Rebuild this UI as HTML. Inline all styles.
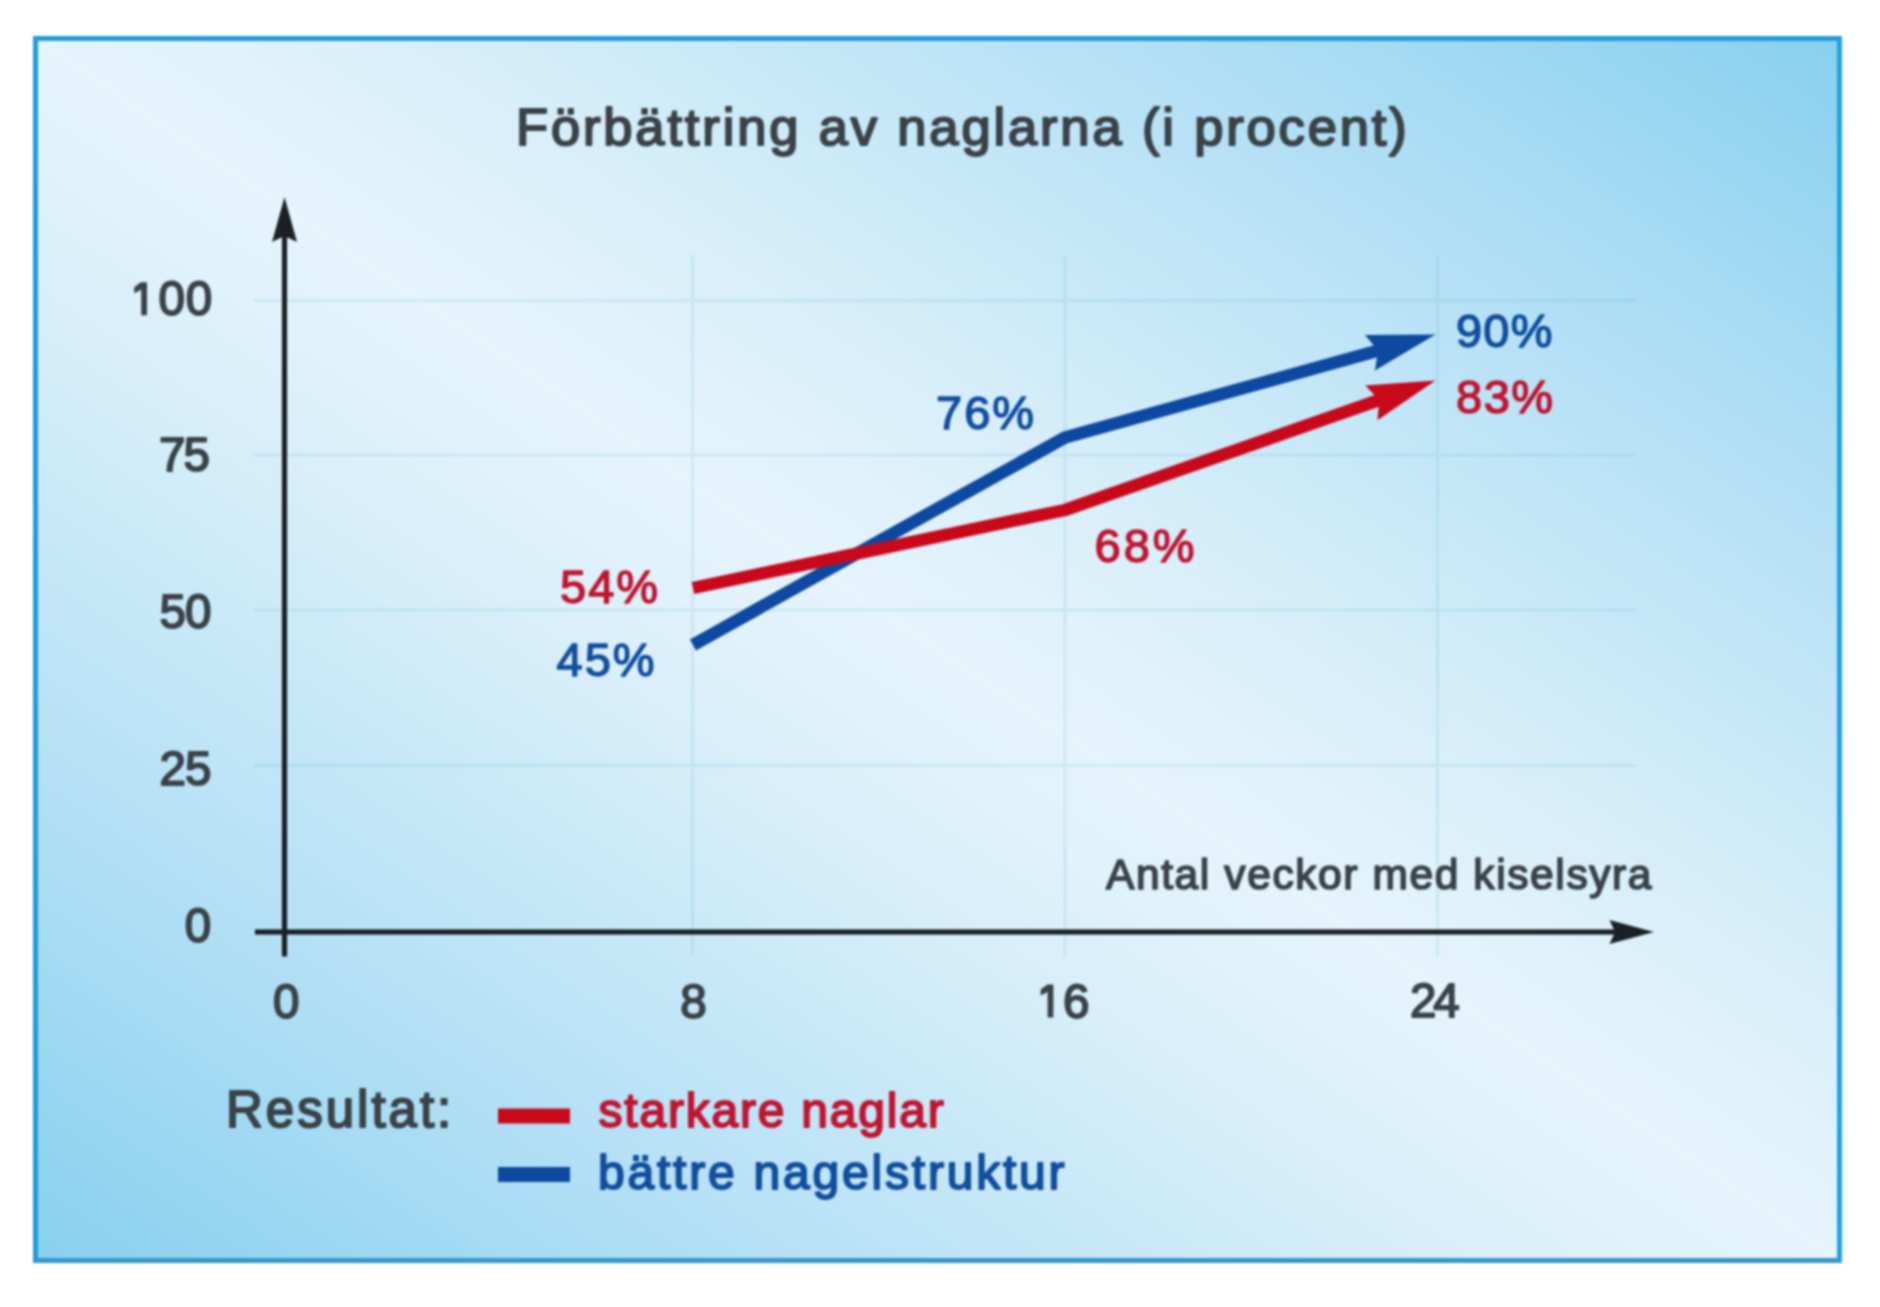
<!DOCTYPE html>
<html><head><meta charset="utf-8">
<style>
html,body{margin:0;padding:0;background:#fff;width:1880px;height:1307px;overflow:hidden}
#box{position:absolute;left:33px;top:36px;width:1809px;height:1227px;box-sizing:border-box;border:5px solid;border-color:#229bdc #1ea4e2 #3597c8 #1f9bdc;background:linear-gradient(to top right,#89d0f0 0%,#94d4f1 5%,#9fd8f3 10%,#a9ddf4 15%,#b4e0f5 20%,#bee4f7 25%,#c7e8f8 30%,#d0ecf9 35%,#d9effa 40%,#e0f2fb 45%,#e6f4fc 50%,#e0f2fb 55%,#d9effa 60%,#d0ecf9 65%,#c7e8f8 70%,#bee4f7 75%,#b4e0f5 80%,#a9ddf4 85%,#9fd8f3 90%,#94d4f1 95%,#89d0f0 100%);filter:blur(0.8px);}
svg{position:absolute;left:0;top:0;filter:blur(0.8px)}
text{font-family:"Liberation Sans",sans-serif;font-weight:normal;paint-order:stroke;stroke-linejoin:round}
.g{fill:#3a4248;stroke:#3a4248}
.r{fill:#c01530;stroke:#c01530}
.b{fill:#114e9e;stroke:#114e9e}
</style></head><body>
<div id="box"></div>
<svg width="1880" height="1307" viewBox="0 0 1880 1307">
 <g stroke="rgb(80,170,200)" stroke-width="3" fill="none" opacity="0.14">
  <line x1="254" y1="300.5" x2="1636" y2="300.5"/>
  <line x1="254" y1="455" x2="1636" y2="455"/>
  <line x1="254" y1="610" x2="1636" y2="610"/>
  <line x1="254" y1="765.5" x2="1636" y2="765.5"/>
  <line x1="692.5" y1="255" x2="692.5" y2="956"/>
  <line x1="1065" y1="255" x2="1065" y2="956"/>
  <line x1="1437.5" y1="255" x2="1437.5" y2="956"/>
 </g>
 <g fill="#1b2026">
  <rect x="281.90" y="230" width="5.2" height="726.5"/>
  <rect x="255" y="929.40" width="1360" height="5.2"/>
  <path d="M284.5 197 L297.0 242 L284.5 236 L272.0 242 Z"/>
  <path d="M1654 932 L1609.5 944 L1615 932 L1609.5 920 Z"/>
 </g>
 <polyline points="693,645 1065,437.5 1377.69,350.66" fill="none" stroke="#0d49a0" stroke-width="12.5" stroke-linejoin="round"/>
 <path fill="#0d49a0" d="M1435.50 334.60 L1374.93 370.62 L1376.97 357.40 L1373.59 345.25 L1365.03 334.97 Z"/>
 <polyline points="693,588 1065,510 1378.86,400.21" fill="none" stroke="#c8091c" stroke-width="12.5" stroke-linejoin="round"/>
 <path fill="#c8091c" d="M1435.50 380.40 L1377.42 420.31 L1378.59 406.98 L1374.42 395.09 L1365.21 385.39 Z"/>
 <path fill="#3a4248" d="M140.90 282.20 L147.00 282.20 L147.00 315.20 L141.20 315.20 L141.20 289.70 L134.20 293.20 L134.20 287.20 Z"/>
 <path fill="#3a4248" d="M1047.30 984.60 L1053.40 984.60 L1053.40 1017.60 L1047.60 1017.60 L1047.60 992.10 L1040.60 995.60 L1040.60 989.60 Z"/>
 <rect x="498" y="1108.5" width="72" height="15" fill="#c8091c"/>
 <rect x="498" y="1167" width="72" height="15" fill="#0d49a0"/>
 <text id="title" class="g" x="516.00" y="145.00" font-size="52.5" stroke-width="2.10" textLength="890.73" lengthAdjust="spacing">Förbättring av naglarna (i procent)</text>
 <text id="y100" class="g" x="158.50" y="314.50" font-size="47.5" stroke-width="1.90" textLength="53.64" lengthAdjust="spacing">00</text>
 <text id="y75" class="g" x="159.00" y="471.00" font-size="47.5" stroke-width="1.90" textLength="50.84" lengthAdjust="spacing">75</text>
 <text id="y50" class="g" x="159.50" y="627.50" font-size="47.5" stroke-width="1.90" textLength="51.84" lengthAdjust="spacing">50</text>
 <text id="y25" class="g" x="159.50" y="785.00" font-size="47.5" stroke-width="1.90" textLength="51.84" lengthAdjust="spacing">25</text>
 <text id="y0" class="g" x="184.70" y="941.50" font-size="47.5" stroke-width="1.90" textLength="26.42" lengthAdjust="spacing">0</text>
 <text id="x0" class="g" x="273.00" y="1017.50" font-size="47.5" stroke-width="1.90" textLength="26.42" lengthAdjust="spacing">0</text>
 <text id="x8" class="g" x="680.30" y="1018.00" font-size="47.5" stroke-width="1.90" textLength="26.42" lengthAdjust="spacing">8</text>
 <text id="x16" class="g" x="1063.00" y="1017.50" font-size="47.5" stroke-width="1.90" textLength="26.42" lengthAdjust="spacing">6</text>
 <text id="x24" class="g" x="1410.00" y="1017.00" font-size="47.5" stroke-width="1.90" textLength="49.64" lengthAdjust="spacing">24</text>
 <text id="antal" class="g" x="1106.00" y="889.00" font-size="42.5" stroke-width="1.70" textLength="545.47" lengthAdjust="spacing">Antal veckor med kiselsyra</text>
 <text id="res" class="g" x="226.00" y="1126.50" font-size="51" stroke-width="2.04" textLength="225.27" lengthAdjust="spacing">Resultat:</text>
 <text id="v54" class="r" x="560.00" y="603.00" font-size="47" style="font-weight:normal" stroke-width="1.41" textLength="98.08" lengthAdjust="spacing">54%</text>
 <text id="v45" class="b" x="556.50" y="675.50" font-size="47" style="font-weight:normal" stroke-width="1.41" textLength="98.08" lengthAdjust="spacing">45%</text>
 <text id="v76" class="b" x="936.00" y="429.00" font-size="47" style="font-weight:normal" stroke-width="1.41" textLength="98.08" lengthAdjust="spacing">76%</text>
 <text id="v68" class="r" x="1094.50" y="562.00" font-size="47" style="font-weight:normal" stroke-width="1.41" textLength="100.08" lengthAdjust="spacing">68%</text>
 <text id="v90" class="b" x="1456.00" y="346.50" font-size="47" style="font-weight:normal" stroke-width="1.41" textLength="96.48" lengthAdjust="spacing">90%</text>
 <text id="v83" class="r" x="1456.00" y="412.50" font-size="47" style="font-weight:normal" stroke-width="1.41" textLength="97.08" lengthAdjust="spacing">83%</text>
 <text id="leg1" class="r" x="598.50" y="1127.00" font-size="48" stroke-width="1.92" textLength="345.16" lengthAdjust="spacing">starkare naglar</text>
 <text id="leg2" class="b" x="598.00" y="1189.00" font-size="48" stroke-width="1.92" textLength="466.56" lengthAdjust="spacing">bättre nagelstruktur</text>
</svg>
</body></html>
